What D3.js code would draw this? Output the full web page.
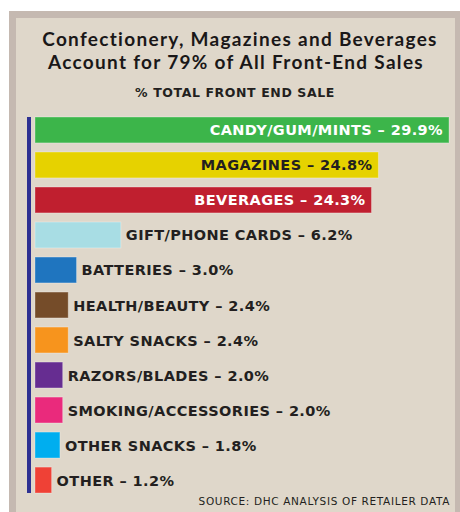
<!DOCTYPE html>
<html>
<head>
<meta charset="utf-8">
<script src="https://cdn.jsdelivr.net/npm/d3@7"></script>
<style>
  body { margin: 0; background: #fff; }
</style>
</head>
<body>
<svg id="chart"></svg>
<script>
// data
var categories = ["CANDY/GUM/MINTS", "MAGAZINES", "BEVERAGES", "GIFT/PHONE CARDS", "BATTERIES", "HEALTH/BEAUTY",
                  "SALTY SNACKS", "RAZORS/BLADES", "SMOKING/ACCESSORIES", "OTHER SNACKS", "OTHER"];
var shares = [29.9, 24.8, 24.3, 6.2, 3.0, 2.4, 2.4, 2.0, 2.0, 1.8, 1.2];
var colors = ["#3cb54a", "#e6d200", "#c01f2f", "#a8dde4", "#1f75bf", "#754c29", "#f7941d", "#662d91", "#ea2a7c", "#00aeef", "#ef4136"];
var insideLabels = [true, true, true, false, false, false, false, false, false, false, false];
var labelColors = ["#fff", "#231f20", "#fff"];

var w = 460, h = 512;
var svg = d3.select('#chart')
    .attr('width', w)
    .attr('height', h);

// panel
svg.append('rect')
    .attr('x', 9).attr('y', 11)
    .attr('width', w - 9).attr('height', h - 11)
    .attr('fill', '#c5b9b1');
svg.append('rect')
    .attr('x', 16).attr('y', 18)
    .attr('width', w - 21).attr('height', h - 18)
    .attr('fill', '#dfd7ca');

// title, two lines
var titleLines = ['Confectionery, Magazines and Beverages', 'Account for 79% of All Front-End Sales'];
svg.selectAll('.title')
    .data(titleLines)
    .enter()
    .append('text')
    .attr('class', 'title')
    .attr('x', function(d, i) { return i == 0 ? 240 : 236; })
    .attr('y', function(d, i) { return 46 + i * 23; })
    .attr('text-anchor', 'middle')
    .attr('font-family', 'Lato, "Open Sans", sans-serif')
    .attr('font-weight', 'bold')
    .attr('font-size', 19)
    .attr('letter-spacing', 1.3)
    .attr('fill', '#1a1718')
    .text(function(d) { return d; });

svg.append('text')
    .attr('x', 235).attr('y', 97)
    .attr('text-anchor', 'middle')
    .attr('font-family', '"DejaVu Sans", sans-serif')
    .attr('font-weight', 'bold')
    .attr('font-size', 12.5)
    .attr('letter-spacing', 0.6)
    .attr('fill', '#231f20')
    .text('% TOTAL FRONT END SALE');

// scales
var x = d3.scaleLinear()
    .domain([0, 29.9])
    .range([35, 449]);

var y = d3.scaleBand()
    .domain(categories)
    .range([117, 493])
    .paddingInner(0.26)
    .paddingOuter(0);

var bars = svg.append('g');
bars.selectAll('rect')
    .data(categories)
    .enter()
    .append('rect')
    .attr('x', x(0))
    .attr('y', function(d) { return y(d); })
    .attr('width', function(d, i) { return x(shares[i]) - x(0); })
    .attr('height', y.bandwidth())
    .attr('fill', function(d, i) { return colors[i]; })
    .attr('stroke', 'rgba(255,255,255,0.3)')
    .attr('stroke-width', 1);

bars.selectAll('text')
    .data(categories)
    .enter()
    .append('text')
    .attr('x', function(d, i) {
      return insideLabels[i] ? x(shares[i]) - 6 : x(shares[i]) + 5;
    })
    .attr('y', function(d) { return y(d) + y.bandwidth() / 2 + 5.5; })
    .attr('text-anchor', function(d, i) { return insideLabels[i] ? 'end' : 'start'; })
    .attr('font-family', '"DejaVu Sans", sans-serif')
    .attr('font-weight', 'bold')
    .attr('font-size', 14.5)
    .attr('letter-spacing', 0.4)
    .attr('fill', function(d, i) { return labelColors[i] || '#231f20'; })
    .text(function(d, i) { return d + ' \u2013 ' + shares[i].toFixed(1) + '%'; });

// axis line
svg.append('line')
    .attr('x1', 29).attr('x2', 29)
    .attr('y1', y(categories[0]))
    .attr('y2', y(categories[categories.length - 1]) + y.bandwidth())
    .attr('stroke', '#2e3192')
    .attr('stroke-width', 4);

// source
svg.append('text')
    .attr('x', 450).attr('y', 505)
    .attr('text-anchor', 'end')
    .attr('font-family', '"DejaVu Sans", sans-serif')
    .attr('font-size', 10.5)
    .attr('letter-spacing', 0.65)
    .attr('fill', '#231f20')
    .text('SOURCE: DHC ANALYSIS OF RETAILER DATA');
</script>
</body>
</html>
